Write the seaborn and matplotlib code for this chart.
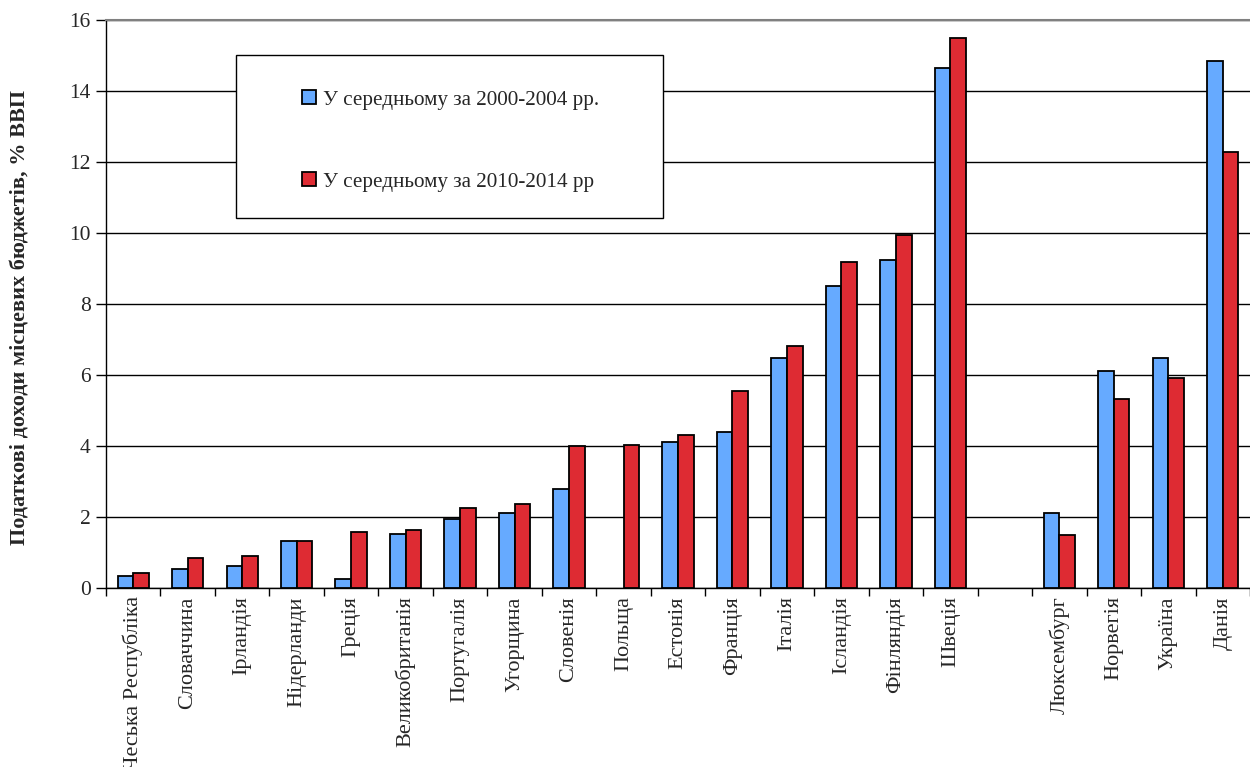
import numpy as np
import pandas as pd
import matplotlib
matplotlib.use("Agg")
import matplotlib.pyplot as plt
from matplotlib.patches import Rectangle
import seaborn as sns

# Податкові доходи місцевих бюджетів, % ВВП
countries = ["Чеська Республіка", "Словаччина", "Ірландія", "Нідерланди", "Греція",
             "Великобританія", "Португалія", "Угорщина", "Словенія", "Польща",
             "Естонія", "Франція", "Італія", "Ісландія", "Фінляндія", "Швеція",
             "", "Люксембург", "Норвегія", "Україна", "Данія"]
avg_2000_2004 = [0.35, 0.54, 0.63, 1.32, 0.26, 1.51, 1.95, 2.12, 2.78, np.nan,
                 4.10, 4.39, 6.47, 8.51, 9.25, 14.65, np.nan, 2.10, 6.11, 6.49, 14.85]
avg_2010_2014 = [0.42, 0.84, 0.91, 1.33, 1.58, 1.64, 2.24, 2.36, 4.00, 4.03,
                 4.32, 5.55, 6.83, 9.19, 9.95, 15.50, np.nan, 1.48, 5.31, 5.92, 12.27]
series_names = ["У середньому за 2000-2004 рр.", "У середньому за 2010-2014 рр"]
y_ticks = [0, 2, 4, 6, 8, 10, 12, 14, 16]
y_label = "Податкові доходи місцевих бюджетів, % ВВП"

df = pd.concat([
    pd.DataFrame({"country": countries, "value": avg_2000_2004, "period": series_names[0]}),
    pd.DataFrame({"country": countries, "value": avg_2010_2014, "period": series_names[1]}),
], ignore_index=True)

sns.set_style("white")
plt.rcParams["font.family"] = ["Liberation Serif", "DejaVu Serif"]

fig = plt.figure(figsize=(12.5, 7.67), dpi=100)
ax = fig.add_axes([106 / 1250, (767 - 588) / 767, (1250 - 106) / 1250, (588 - 20) / 767])

sns.barplot(data=df, x="country", y="value", hue="period",
            order=countries, hue_order=series_names,
            palette=["#66AAFF", "#DE2B33"], saturation=1,
            width=0.576, gap=0, edgecolor="black", linewidth=1.3,
            errorbar=None, ax=ax, zorder=3)

ax.set_xlim(-0.5, len(countries) - 0.5)
ax.set_ylim(0, 16)
ax.set_yticks(y_ticks)
ax.set_yticklabels([str(t) for t in y_ticks], fontsize=15.5)
ax.yaxis.grid(True, color="black", linewidth=1.0, zorder=0)
ax.set_axisbelow(True)
ax.tick_params(axis="y", direction="out", length=7, width=1, color="black", left=True, pad=4)

# category labels at centres, tick marks on the boundaries
ax.set_xticks(range(len(countries)))
ax.set_xticklabels(countries, rotation=90, fontsize=16, va="top")
ax.tick_params(axis="x", which="major", length=0, pad=6)
ax.set_xticks(np.arange(-0.5, len(countries)), minor=True)
ax.tick_params(axis="x", which="minor", direction="out", length=6, width=1,
               color="black", bottom=True)

ax.set_xlabel("")
ax.set_ylabel(y_label, fontsize=16, fontweight="bold")
ax.yaxis.set_label_coords(-0.0664, 0.476)

for side in ["left", "bottom"]:
    ax.spines[side].set_color("black")
    ax.spines[side].set_linewidth(1.0)
ax.spines["top"].set_color("#808080")
ax.spines["top"].set_linewidth(1.5)
ax.spines["right"].set_visible(False)

# legend box
handles, labels = ax.get_legend_handles_labels()
ax.get_legend().remove()
box = Rectangle((236 / 1250, 1 - 218 / 767), (663 - 236) / 1250, (218 - 55) / 767,
                transform=fig.transFigure, facecolor="white", edgecolor="black",
                linewidth=1.0, zorder=5)
fig.patches.append(box)
leg = fig.legend(handles, labels, loc="center",
                 bbox_to_anchor=(450.5 / 1250, 1 - 141 / 767),
                 frameon=False, fontsize=15.2, handlelength=0.65, handleheight=0.65,
                 handletextpad=0.35, labelspacing=2.95)
leg.set_zorder(6)
for h in leg.legend_handles:
    h.set_edgecolor("black")
    h.set_linewidth(1.3)

fig.savefig("out.png", dpi=100)
